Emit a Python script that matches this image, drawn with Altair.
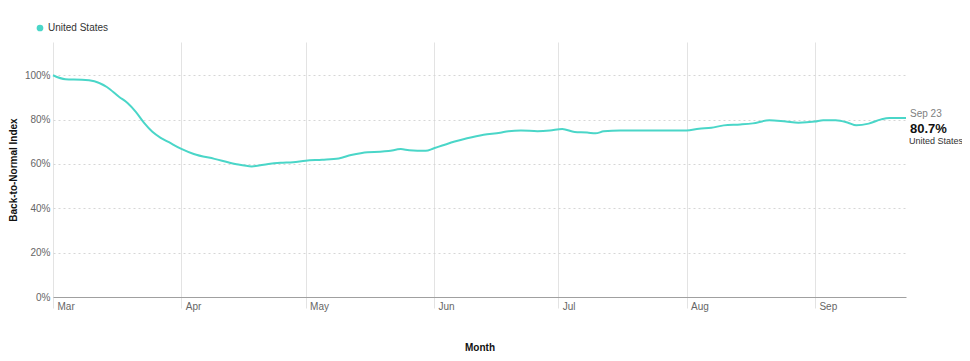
import altair as alt
import pandas as pd

# ---- data ----
dates = [
    "2020-03-01", "2020-03-04", "2020-03-08", "2020-03-11", "2020-03-14", "2020-03-17",
    "2020-03-19", "2020-03-21", "2020-03-23", "2020-03-25", "2020-03-27", "2020-03-29",
    "2020-04-01", "2020-04-04", "2020-04-09", "2020-04-14", "2020-04-18", "2020-04-22",
    "2020-04-25", "2020-04-28", "2020-05-01", "2020-05-05", "2020-05-09", "2020-05-12",
    "2020-05-16", "2020-05-19", "2020-05-21", "2020-05-24", "2020-05-26", "2020-05-30",
    "2020-06-01", "2020-06-03", "2020-06-06", "2020-06-09", "2020-06-13", "2020-06-17",
    "2020-06-19", "2020-06-22", "2020-06-26", "2020-06-29", "2020-07-02", "2020-07-05",
    "2020-07-08", "2020-07-10", "2020-07-12", "2020-07-16", "2020-07-25", "2020-08-01",
    "2020-08-04", "2020-08-07", "2020-08-10", "2020-08-14", "2020-08-17", "2020-08-21",
    "2020-08-25", "2020-08-28", "2020-09-01", "2020-09-03", "2020-09-06", "2020-09-09",
    "2020-09-11", "2020-09-14", "2020-09-17", "2020-09-19", "2020-09-23",
]
values = [
    100.0, 98.2, 98.0, 97.3, 94.7, 90.2,
    87.5, 83.5, 78.5, 74.5, 71.8, 69.8,
    66.8, 64.5, 62.3, 60.0, 58.9, 60.0,
    60.5, 60.8, 61.5, 61.9, 62.5, 64.0,
    65.3, 65.5, 65.8, 66.7, 66.2, 65.9,
    67.1, 68.3, 70.1, 71.6, 73.2, 74.1,
    74.8, 75.1, 74.8, 75.1, 75.8, 74.4,
    74.2, 73.8, 74.7, 75.1, 75.1, 75.1,
    75.9, 76.3, 77.4, 77.8, 78.3, 79.7,
    79.1, 78.6, 79.1, 79.7, 79.7, 78.6,
    77.4, 78.2, 80.1, 80.7, 80.7,
]
series_name = "United States"
end_date = "2020-09-23"
end_value = 80.7
end_label = "Sep 23"
y_ticks = [0, 20, 40, 60, 80, 100]
month_starts = [3, 4, 5, 6, 7, 8, 9]

LINE_COLOR = "#4ad6c8"
FONT = "Liberation Sans"

df = pd.DataFrame({"date": dates, "value": values, "series": series_name})
end_df = pd.DataFrame({
    "date": [end_date],
    "value": [end_value],
    "label": [end_label],
    "pct": [f"{end_value}%"],
    "series": [series_name],
})

x_enc = alt.X(
    "date:T",
    title="Month",
    scale=alt.Scale(
        type="utc",
        domain=[alt.DateTime(year=2020, month=3, date=1, utc=True),
                alt.DateTime(year=2020, month=9, date=23, utc=True)],
    ),
    axis=alt.Axis(
        values=[alt.DateTime(year=2020, month=m, date=1, utc=True) for m in month_starts],
        format="%b",
        labelAlign="left",
        labelBaseline="top",
        labelOffset=4,
        labelPadding=-7,
        tickSize=11,
        tickColor="#e3e3e3",
        grid=True,
        gridColor="#e3e3e3",
        gridDash=[],
        domainColor="#a0a0a0",
        titlePadding=31,
    ),
)
y_enc = alt.Y(
    "value:Q",
    title="Back-to-Normal Index",
    scale=alt.Scale(domain=[0, 115], nice=False, zero=True),
    axis=alt.Axis(
        values=y_ticks,
        labelExpr="datum.value + '%'",
        ticks=False,
        domain=False,
        grid=True,
        gridColor="#d6d6d6",
        gridDash=[2, 3],
        labelPadding=3,
        titlePadding=6,
    ),
)

line = alt.Chart(df).mark_line(strokeWidth=2, interpolate="monotone").encode(
    x=x_enc,
    y=y_enc,
    color=alt.Color(
        "series:N",
        scale=alt.Scale(range=[LINE_COLOR]),
        legend=alt.Legend(
            title=None,
            orient="none",
            legendX=-18,
            legendY=-19,
            symbolType="circle",
            symbolSize=45,
            symbolFillColor=LINE_COLOR,
            symbolStrokeColor=LINE_COLOR,
            symbolStrokeWidth=0,
            labelFont=FONT,
            labelFontSize=10,
            labelColor="#333333",
            labelOffset=3,
        ),
    ),
)

end_base = alt.Chart(end_df).encode(x="date:T", y="value:Q")
t_date = end_base.mark_text(align="left", baseline="middle", dx=4, dy=-4,
                            font=FONT, fontSize=10, color="#808080").encode(text="label:N")
t_val = end_base.mark_text(align="left", baseline="middle", dx=4, dy=11,
                           font=FONT, fontSize=13, fontWeight="bold", color="#111111").encode(text="pct:N")
t_name = end_base.mark_text(align="left", baseline="middle", dx=3, dy=23,
                            font=FONT, fontSize=9, color="#333333").encode(text="series:N")

chart = (
    alt.layer(line, t_date, t_val, t_name)
    .properties(
        width=853,
        height=255,
        autosize=alt.AutoSizeParams(type="none"),
        padding={"left": 45, "top": 34, "right": 56, "bottom": 55},
    )
    .configure_view(stroke=None)
    .configure_axis(
        labelFont=FONT,
        labelFontSize=10,
        labelColor="#666666",
        titleFont=FONT,
        titleFontSize=10,
        titleFontWeight="bold",
        titleColor="#111111",
    )
)

chart.save("out.html", embed_options={"renderer": "svg", "actions": False})
